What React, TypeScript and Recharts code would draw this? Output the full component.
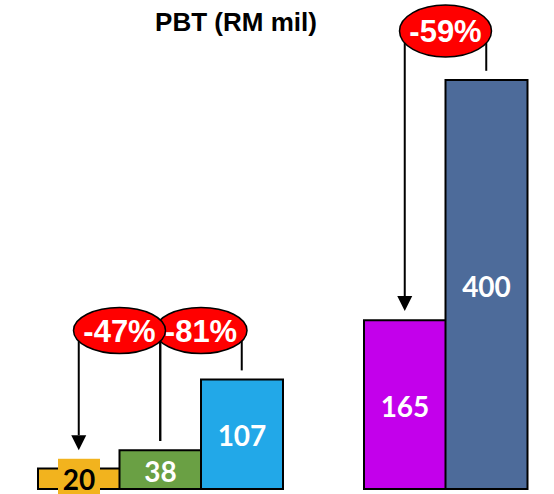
import React from "react";
import {
  BarChart,
  Bar,
  Cell,
  XAxis,
  YAxis,
  LabelList,
  ReferenceLine,
} from "recharts";

// PBT per period (RM mil); the empty slot separates the two groups
const periods = ["A", "B", "C", "", "D", "E"];
const pbt = [20, 38, 107, null, 165, 400];
const barColors = ["#F2B31E", "#6AA044", "#22A8E8", "transparent", "#C300EB", "#4D6B9A"];

// change callouts: bubble sits between two bars, arrow points at the left one
const changeLabels = ["-81%", "-47%", "-59%"];
const changeFrom = ["B", "A", "D"];
const changeTo = ["C", "B", "E"];
const changeLevel = [155, 155, 448];
const changeArrow = [false, true, true];

const LABEL_FLOOR = 29; // top of the badge drawn on very short bars
const GAP = 9;

const data = periods.map((p, i) => ({ period: p, pbt: pbt[i] }));
const valueOf = (p: string) => pbt[periods.indexOf(p)] ?? 0;
const tipOf = (p: string) => Math.max(valueOf(p), LABEL_FLOOR) + GAP;

const Connector = (arrow: boolean) => (props: any) => {
  const { x1, y1, x2, y2 } = props;
  const head = arrow ? 15 : 0;
  return (
    <g>
      <line x1={x1} y1={y1} x2={x2} y2={y2 - head} stroke="#000" strokeWidth={2} />
      {arrow && (
        <polygon
          points={`${x2 - 7.5},${y2 - head} ${x2 + 7.5},${y2 - head} ${x2},${y2}`}
          fill="#000"
        />
      )}
    </g>
  );
};

const Bubble = (text: string, ry: number) => (props: any) => {
  const { x1, y1, x2 } = props;
  const cx = (x1 + x2) / 2;
  return (
    <g>
      <ellipse cx={cx} cy={y1} rx={46} ry={ry} fill="#FF0000" stroke="#000" strokeWidth={1.5} />
      <text
        x={cx}
        y={y1 + 1}
        textAnchor="middle"
        dominantBaseline="central"
        fill="#fff"
        fontFamily="'Liberation Sans', Arial, sans-serif"
        fontWeight={700}
        fontSize={31}
      >
        {text}
      </text>
    </g>
  );
};

const ValueLabel = (props: any) => {
  const { x, y, width, height, value } = props;
  if (value == null) return null;
  const cx = x + width / 2;
  const cy = y + height / 2;
  const font = { fontFamily: "Lato, 'Noto Sans', sans-serif", fontWeight: 700, fontSize: 28 };
  if (height < 30) {
    // short bar: value sits on a badge in the bar colour
    return (
      <g>
        <rect x={cx - 21} y={cy - 20} width={42} height={40} fill="#F2B31E" />
        <text x={cx} y={cy} textAnchor="middle" dominantBaseline="central" fill="#000" {...font}>
          {value}
        </text>
      </g>
    );
  }
  return (
    <text x={cx} y={cy + 1} textAnchor="middle" dominantBaseline="central" fill="#fff" {...font}>
      {value}
    </text>
  );
};

export default function App() {
  return (
    <div style={{ position: "absolute", left: 0, top: 0, width: 554, height: 494, background: "#fff" }}>
      <div
        style={{
          position: "absolute",
          left: 0,
          width: 472,
          top: 7,
          textAlign: "center",
          fontFamily: "'Liberation Sans', Arial, sans-serif",
          fontWeight: 700,
          fontSize: 26,
          color: "#000",
        }}
      >
        PBT (RM mil)
      </div>
      <BarChart
        width={554}
        height={494}
        data={data}
        margin={{ top: 80, right: 0, bottom: 5, left: 0 }}
        barCategoryGap={0}
        style={{ position: "absolute", left: 0, top: 0 }}
      >
        <XAxis
          dataKey="period"
          tick={false}
          tickLine={false}
          height={0}
          padding={{ left: 38, right: 27 }}
          axisLine={{ stroke: "#222", strokeWidth: 1.5 }}
        />
        <YAxis hide domain={[0, 400]} />
        <Bar dataKey="pbt" stroke="#000" strokeWidth={2} isAnimationActive={false}>
          {data.map((d, i) => (
            <Cell key={i} fill={barColors[i]} stroke={d.pbt == null ? "none" : "#000"} />
          ))}
          <LabelList dataKey="pbt" content={ValueLabel} />
        </Bar>
        {changeLabels.map((t, i) => (
          <ReferenceLine
            key={`l${i}`}
            ifOverflow="visible"
            segment={[
              { x: changeFrom[i], y: changeLevel[i] },
              { x: changeFrom[i], y: tipOf(changeFrom[i]) },
            ]}
            shape={Connector(changeArrow[i])}
          />
        ))}
        {changeLabels.map((t, i) => (
          <ReferenceLine
            key={`r${i}`}
            ifOverflow="visible"
            segment={[
              { x: changeTo[i], y: changeLevel[i] },
              { x: changeTo[i], y: tipOf(changeTo[i]) },
            ]}
            shape={Connector(false)}
          />
        ))}
        {changeLabels.map((t, i) => (
          <ReferenceLine
            key={`b${i}`}
            ifOverflow="visible"
            segment={[
              { x: changeFrom[i], y: changeLevel[i] },
              { x: changeTo[i], y: changeLevel[i] },
            ]}
            shape={Bubble(t, i === 2 ? 26 : 23)}
          />
        ))}
      </BarChart>
    </div>
  );
}
